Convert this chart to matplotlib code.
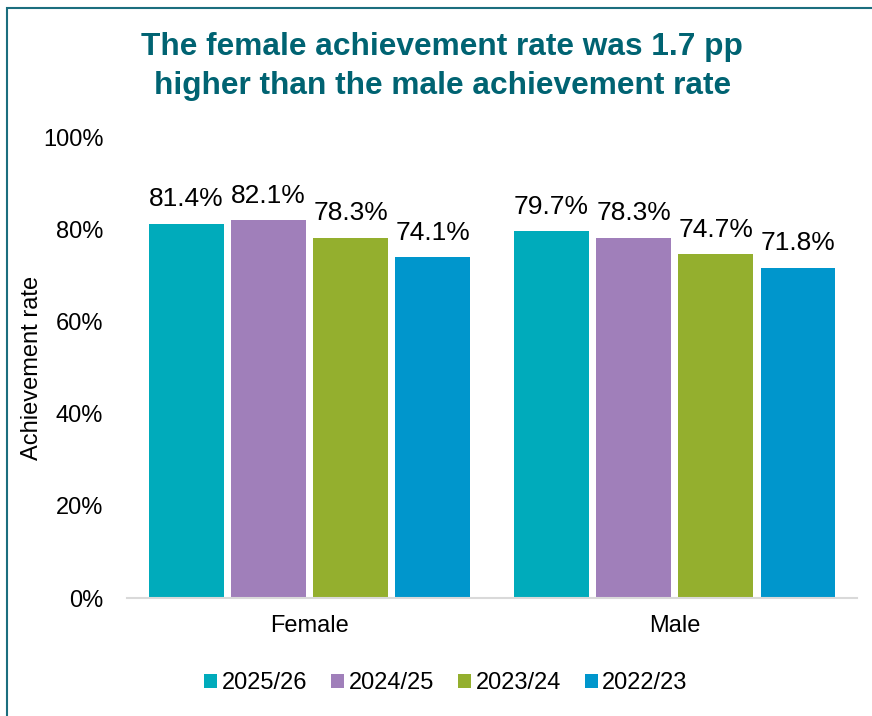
import numpy as np
import matplotlib.pyplot as plt
from matplotlib.patches import Rectangle

plt.rcParams['font.family'] = ['Liberation Sans', 'DejaVu Sans']

groups = ['Female', 'Male']
years = ['2025/26', '2024/25', '2023/24', '2022/23']
rates = {
    '2025/26': [81.4, 79.7],
    '2024/25': [82.1, 78.3],
    '2023/24': [78.3, 74.7],
    '2022/23': [74.1, 71.8],
}
colors = ['#00ABBB', '#A07FBA', '#94AF2E', '#0096CC']
title = 'The female achievement rate was 1.7 pp\nhigher than the male achievement rate'

fig = plt.figure(figsize=(8.72, 7.16), dpi=100)
ax = fig.add_axes([0.1456, 0.1648, 0.8374, 0.6425])

x = np.arange(len(groups))
pitch = 0.225
width = 0.204
for i, (yr, col) in enumerate(zip(years, colors)):
    vals = np.array(rates[yr]) / 100
    pos = x + (i - 1.5) * pitch
    ax.bar(pos, vals, width, color=col, label=yr, zorder=2)
    for px, v in zip(pos, rates[yr]):
        ax.annotate(f'{v:.1f}%', (px, v / 100), xytext=(0, 9), textcoords='offset points',
                    ha='center', va='bottom', fontsize=19)

ax.set_xlim(-0.5, 1.5)
ax.set_ylim(0, 1)
ax.set_yticks(np.arange(0, 1.01, 0.2))
ax.set_yticklabels([f'{int(t*100)}%' for t in ax.get_yticks()], fontsize=17)
ax.set_xticks(x)
ax.set_xticklabels(groups, fontsize=17)
ax.tick_params(length=0, pad=12)
ax.tick_params(axis='y', pad=17)
for s in ['top', 'right', 'left']:
    ax.spines[s].set_visible(False)
ax.spines['bottom'].set_color('#D9D9D9')
ax.spines['bottom'].set_linewidth(1.5)
ax.set_ylabel('Achievement rate', fontsize=17, labelpad=0)

fig.text(0.507, 0.907, title, ha='center', va='center', fontsize=22.8, fontweight='bold',
         color='#006372', linespacing=1.42)

ax.legend(loc='center', bbox_to_anchor=(0.437, -0.185), ncol=4, frameon=False,
          fontsize=17, handlelength=0.55, handleheight=0.55, handletextpad=0.2,
          columnspacing=1.0)

# teal frame running off the right and bottom edges
fig.patches.append(Rectangle((6.5 / 872, -0.05), 1.1, 1 - 7.5 / 716 + 0.05,
                             transform=fig.transFigure, fill=False,
                             edgecolor='#1B6E7E', linewidth=1.5))

fig.savefig('out.png', dpi=100)
